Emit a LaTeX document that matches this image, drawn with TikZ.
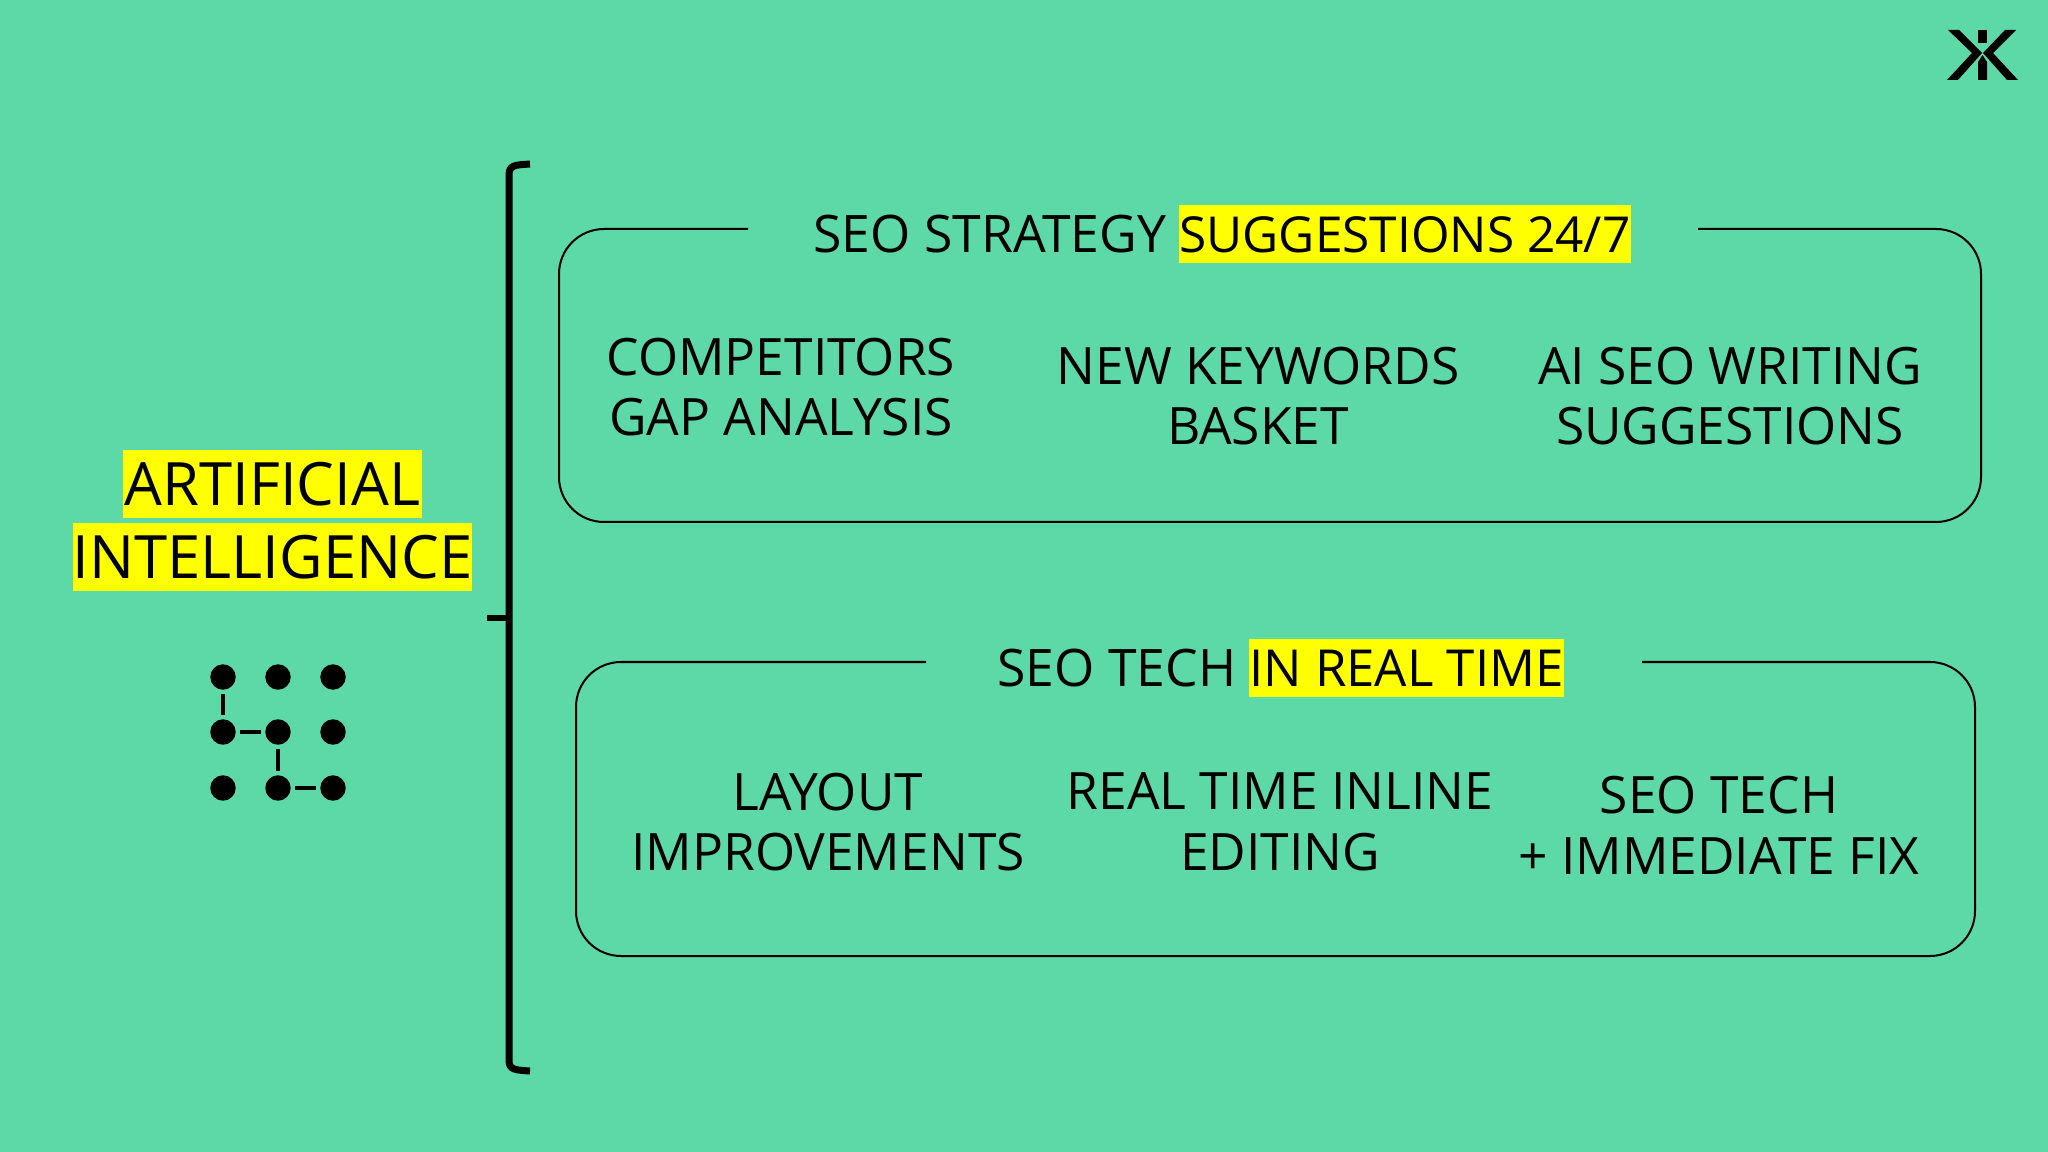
\documentclass[tikz,border=0pt]{standalone}
\usepackage{fontspec}
\usepackage{tikz}
\setmainfont{Open Sans}
\definecolor{mint}{RGB}{92,217,166}
\definecolor{marker}{RGB}{255,255,0}
\begin{document}
\begin{tikzpicture}[x=0.01cm,y=-0.01cm]
        \tikzstyle{dotnode} = [circle,fill=black,inner sep=0pt,minimum size=0.254cm]
        \tikzstyle{link} = [line width=0.033cm,shorten >=0.04cm,shorten <=0.04cm]
        \tikzstyle{frame} = [line width=0.02cm,rounded corners=0.45cm]
        \tikzstyle{heading} = [font=\fontsize{17}{19}\selectfont,fill=marker,inner sep=0pt,text height=0.555cm,text depth=0.125cm]
        \tikzstyle{title} = [font=\fontsize{14.7}{17}\selectfont,inner sep=0pt,text height=0.47cm,text depth=0.11cm]
        \tikzstyle{hilite} = [title,fill=marker]
        \tikzstyle{item} = [font=\fontsize{14.65}{17.3}\selectfont,align=center,inner sep=0pt]
        \useasboundingbox (0,0) rectangle (2048,1152);
        \fill[mint] (0,0) rectangle (2048,1152);
        \fill (1948,30) -- (1959,30) -- (1982,53) -- (1958,80) -- (1947,80) -- (1972,53) -- cycle;
        \fill (2016,30) -- (2005,30) -- (1983,53) -- (2007,80) -- (2018,80) -- (1993,53) -- cycle;
        \fill (1978,30) rectangle (1987,43);
        \fill (1978,80) -- (1978,62) -- (1982.5,55) -- (1987,62) -- (1987,80) -- cycle;
        \draw[line width=0.07cm] (530,164) .. controls (515,165) and (509,165) .. (509,175) -- (509,1060) .. controls (509,1070) and (515,1070) .. (530,1071);
        \draw[line width=0.06cm] (487,618) -- (509,618);
        \node (artificial)[heading,minimum width=2.99cm] at (272.5,484) {ARTIFICIAL};
        \node (intelligence)[heading,minimum width=3.95cm] at (272.5,557) {INTELLIGENCE};
        \foreach \r/\y in {1/677,2/732,3/788}{
          \foreach \c/\x in {1/223,2/278,3/333}{
            \node (d\r\c)[dotnode] at (\x,\y) {};
          }
        }
        \path[draw,link] (d11) -- (d21);
        \path[draw,link] (d21) -- (d22);
        \path[draw,link] (d22) -- (d32);
        \path[draw,link] (d32) -- (d33);
        \draw[frame] (748,229) -- (559,229) -- (559,522) -- (1981,522) -- (1981,229) -- (1698,229);
        \node (suggestions)[hilite,minimum width=4.52cm,font=\fontsize{14.1}{17}\selectfont] at (1405,234) {SUGGESTIONS 24/7};
        \node (strategy)[title,anchor=east] at (1167,234) {SEO STRATEGY};
        \node (competitors)[item] at (781,387) {COMPETITORS\\GAP ANALYSIS};
        \node (keywords)[item] at (1258,396) {NEW KEYWORDS\\BASKET};
        \node (writing)[item] at (1730,396) {AI SEO WRITING\\SUGGESTIONS};
        \draw[frame] (926,662) -- (576,662) -- (576,956) -- (1975,956) -- (1975,662) -- (1642,662);
        \node (realtime)[hilite,minimum width=3.13cm,font=\fontsize{14.5}{17}\selectfont] at (1406.5,668) {IN REAL TIME};
        \node (tech)[title,anchor=east] at (1237,668) {SEO TECH};
        \node (layout)[item] at (828,822) {LAYOUT\\IMPROVEMENTS};
        \node (inline)[item] at (1280,822) {REAL TIME INLINE\\EDITING};
        \node (fix)[item] at (1719,825) {SEO TECH\\+ IMMEDIATE FIX};
\end{tikzpicture}
\end{document}
